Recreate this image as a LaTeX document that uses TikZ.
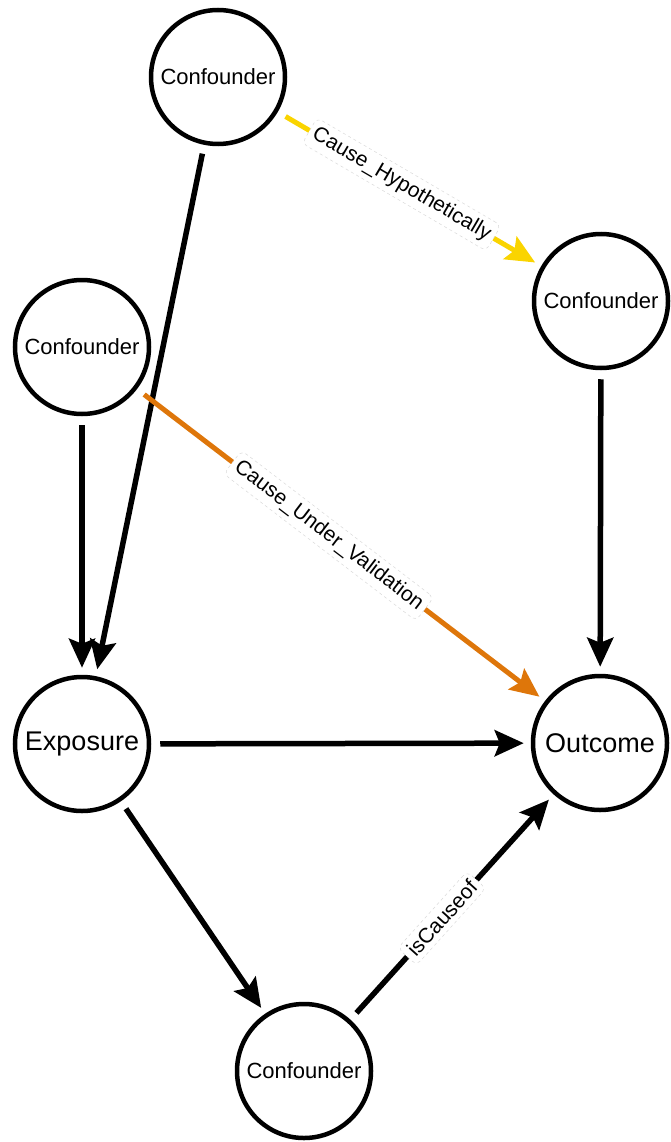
\documentclass[tikz,border=0pt]{standalone}
\usepackage{fontspec}
\setmainfont{Liberation Sans}
\usetikzlibrary{arrows.meta}
\definecolor{ylw}{RGB}{250,212,0}
\definecolor{org}{RGB}{222,118,10}
\begin{document}
\begin{tikzpicture}[x=1pt,y=-1pt,
  var/.style={circle, draw=black, line width=4.5pt, fill=white, minimum size=134pt, inner sep=0pt, font=\fontsize{22}{24}\selectfont},
  bigvar/.style={var, font=\fontsize{27}{30}\selectfont},
  edge/.style={line width=5.5pt, -{Stealth[length=29pt,width=26pt,inset=5pt]}, shorten <=9pt, shorten >=7pt},
  lbl/.style={sloped, fill=white, draw=gray!30, dashed, line width=0.5pt, rounded corners=6pt, inner xsep=5pt, inner ysep=5pt, font=\fontsize{21}{23}\selectfont, text=black}
]
\useasboundingbox (0,0) rectangle (671,1142);
\node[var] (ct) at (218,77) {Confounder};
\node[var] (cr) at (601,301) {Confounder};
\node[var] (cl) at (82,347) {Confounder};
\node[bigvar] (ex) at (82,744) {Exposure};
\node[bigvar] (out) at (600,743) {Outcome};
\node[var] (cb) at (304,1071) {Confounder};

\draw[edge] (ct) -- (ex);
\draw[edge] (cl) -- (ex);
\draw[edge] (cr) -- (out);
\draw[edge] (ex) -- (out);
\draw[edge] (ex) -- (cb);
\draw[edge] (cb) -- node[lbl, pos=0.45] {isCauseof} (out);
\draw[edge, line width=5pt, draw=ylw, fill=ylw] (ct) -- node[lbl, pos=0.47] {Cause\_Hypothetically} (cr);
\draw[edge, line width=5pt, draw=org, fill=org] (cl) -- node[lbl, pos=0.47] {Cause\_Under\_Validation} (out);
\end{tikzpicture}
\end{document}
